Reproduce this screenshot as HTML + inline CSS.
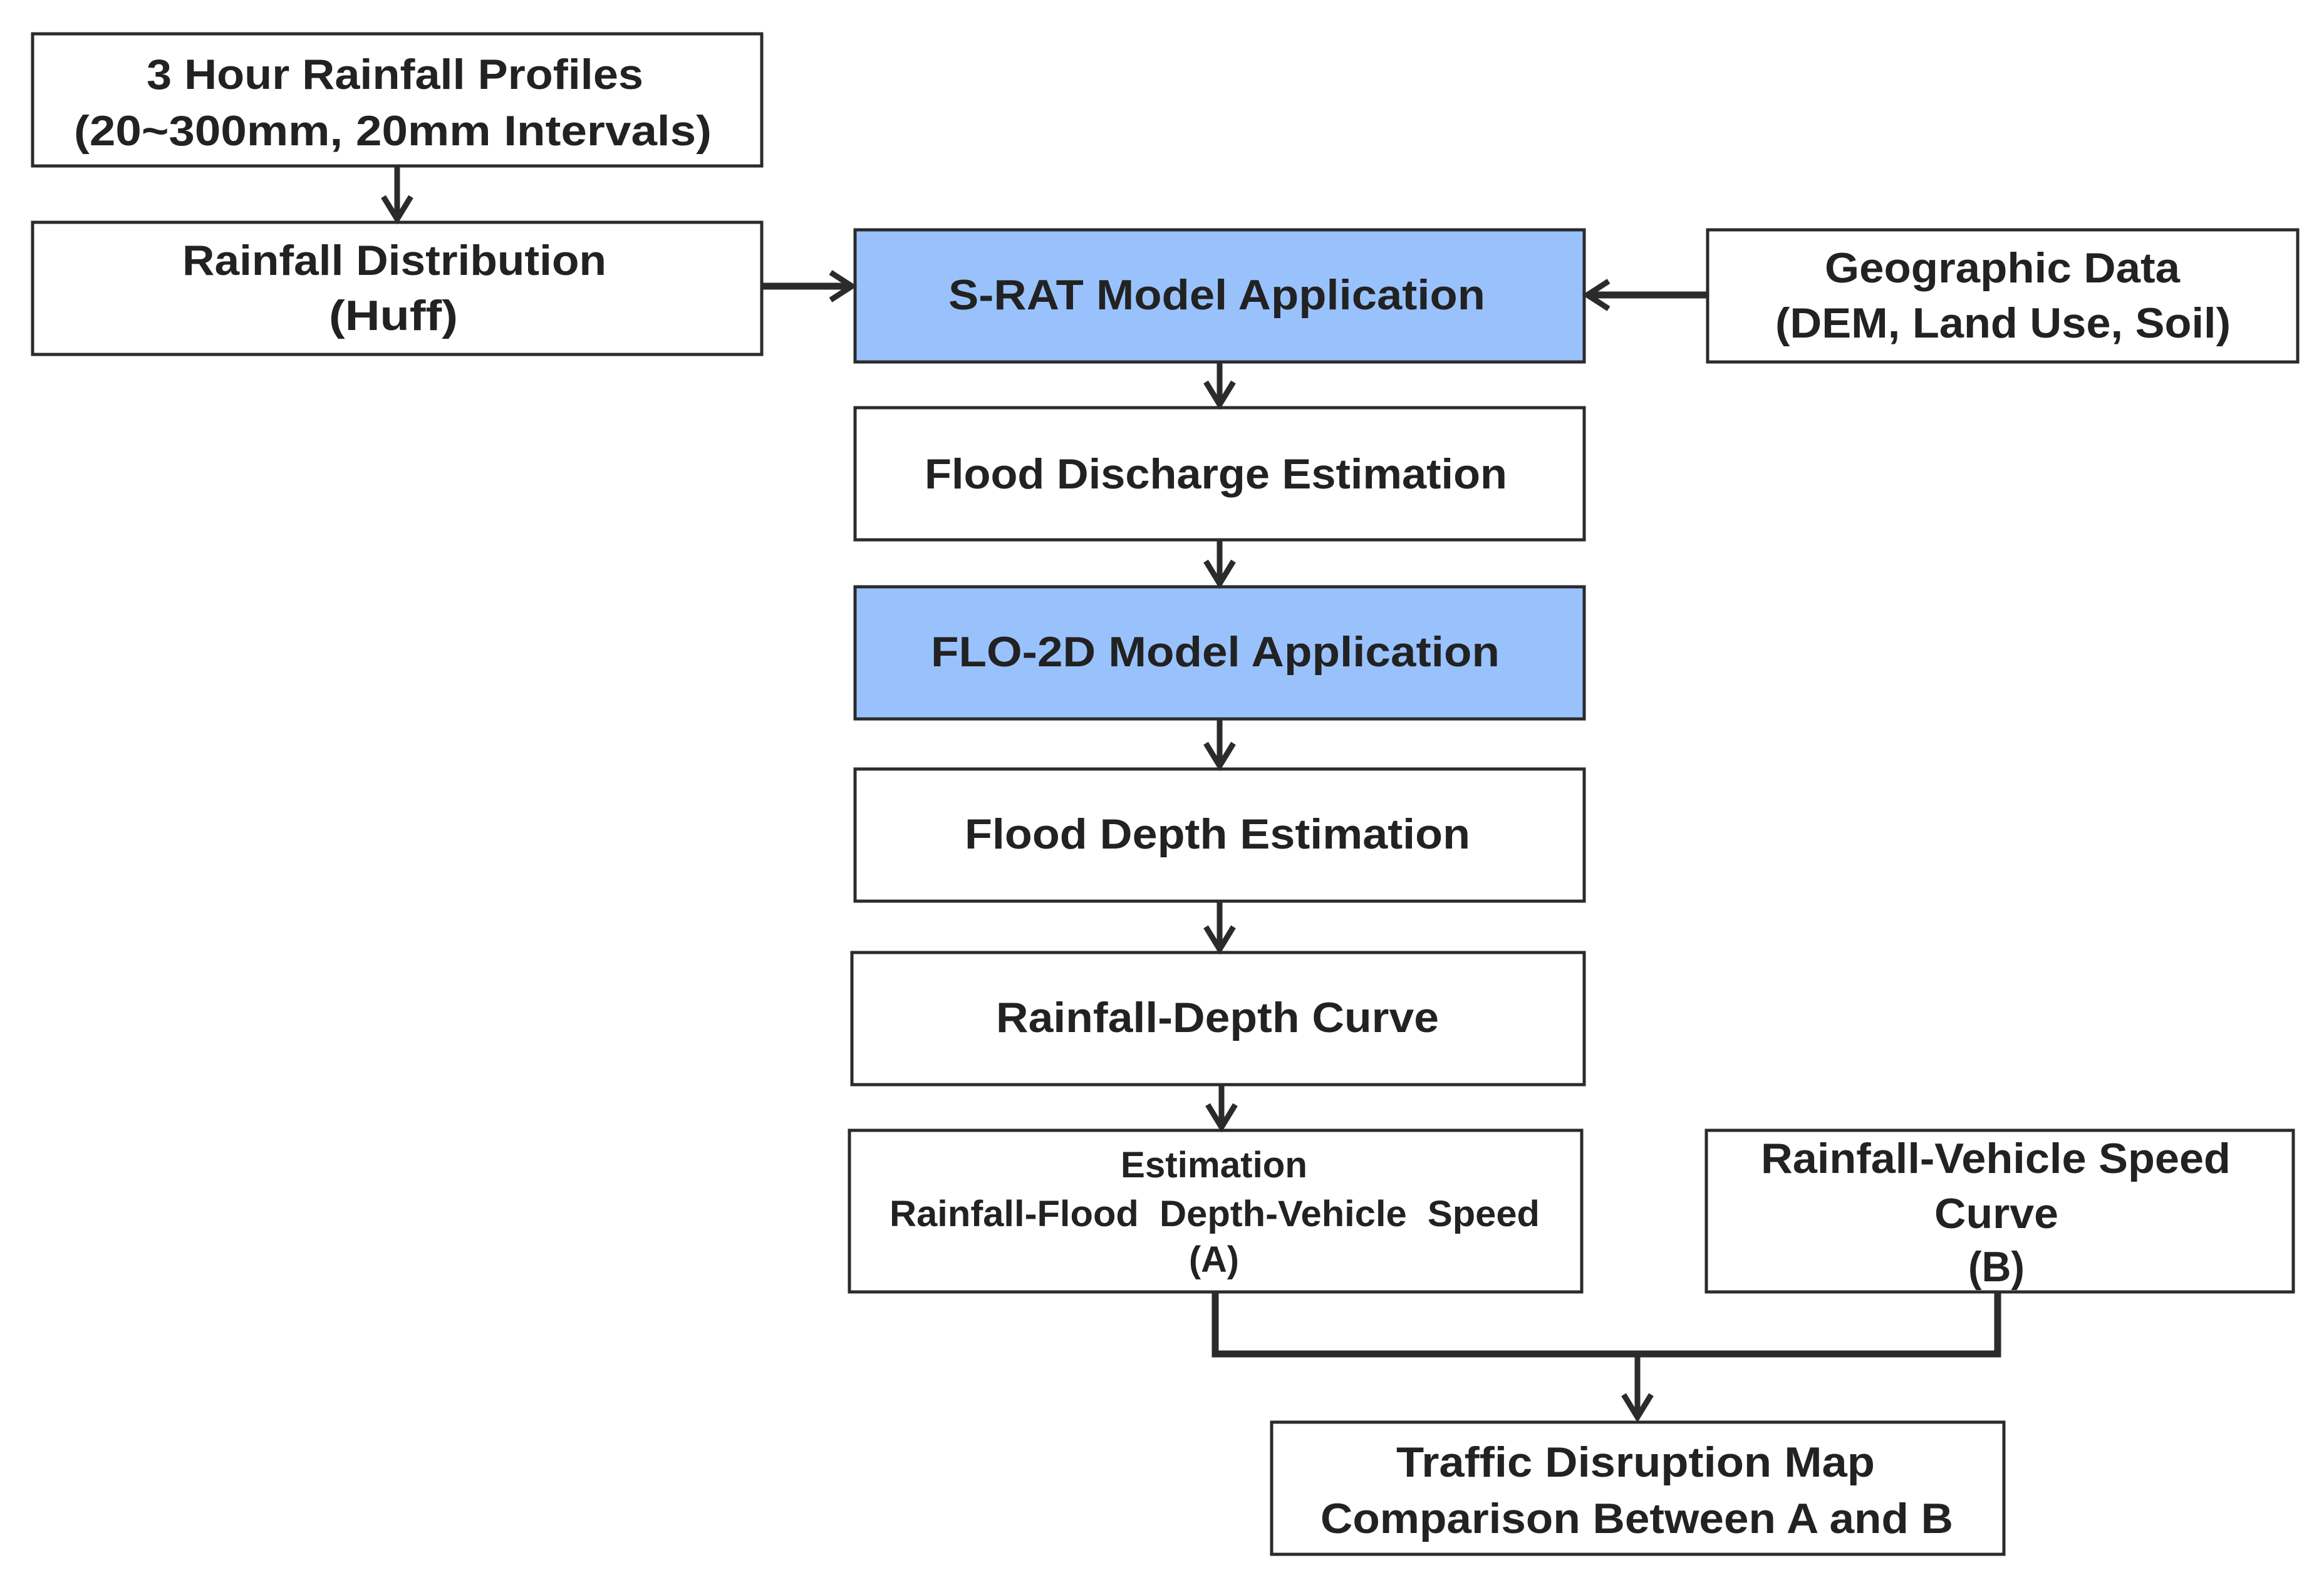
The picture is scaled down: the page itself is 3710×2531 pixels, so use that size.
<!DOCTYPE html>
<html><head><meta charset="utf-8"><style>html,body{margin:0;padding:0;background:#fff}svg{display:block}</style></head>
<body>
<svg width="3710" height="2531" viewBox="0 0 3710 2531" xmlns="http://www.w3.org/2000/svg">
<g fill="#fff" stroke="#2b2b2b" stroke-width="5">
<rect x="52" y="54" width="1164" height="211"/>
<rect x="52" y="355" width="1164" height="211"/>
<rect x="1365" y="367" width="1164" height="211" fill="#99c2fd"/>
<rect x="2726" y="367" width="942" height="211"/>
<rect x="1365" y="651" width="1164" height="211"/>
<rect x="1365" y="937" width="1164" height="211" fill="#99c2fd"/>
<rect x="1365" y="1228" width="1164" height="211"/>
<rect x="1360" y="1521" width="1169" height="211"/>
<rect x="1356" y="1805" width="1169" height="258"/>
<rect x="2724" y="1805" width="937" height="258"/>
<rect x="2030" y="2271" width="1169" height="211"/>
</g>
<g stroke="#2b2b2b" fill="none" stroke-width="9" stroke-linejoin="miter">
<line x1="634" y1="265" x2="634" y2="350"/><polyline points="612,314 634,350 656,314"/>
<line x1="1216" y1="457" x2="1360" y2="457" stroke-width="11"/><polyline points="1326,435 1360,457 1326,479"/>
<line x1="2726" y1="471" x2="2534" y2="471" stroke-width="11"/><polyline points="2568,449 2534,471 2568,493"/>
<line x1="1947" y1="578" x2="1947" y2="646"/><polyline points="1925,610 1947,646 1969,610"/>
<line x1="1947" y1="862" x2="1947" y2="932"/><polyline points="1925,896 1947,932 1969,896"/>
<line x1="1947" y1="1148" x2="1947" y2="1223"/><polyline points="1925,1187 1947,1223 1969,1187"/>
<line x1="1947" y1="1439" x2="1947" y2="1516"/><polyline points="1925,1480 1947,1516 1969,1480"/>
<line x1="1950" y1="1732" x2="1950" y2="1800"/><polyline points="1928,1764 1950,1800 1972,1764"/>
<polyline points="1940,2063 1940,2162 3189,2162 3189,2063" stroke-width="11"/>
<line x1="2614" y1="2162" x2="2614" y2="2263"/><polyline points="2592,2227 2614,2263 2636,2227"/>
</g>
<g font-family="'Liberation Sans', sans-serif" font-weight="bold" fill="#222" font-size="68">
<text x="234" y="142" textLength="793" lengthAdjust="spacingAndGlyphs">3 Hour Rainfall Profiles</text>
<text x="118" y="232" textLength="1018" lengthAdjust="spacingAndGlyphs">(20~300mm, 20mm Intervals)</text>
<text x="291" y="439" textLength="677" lengthAdjust="spacingAndGlyphs">Rainfall Distribution</text>
<text x="525" y="527" textLength="206" lengthAdjust="spacingAndGlyphs">(Huff)</text>
<text x="1514" y="494" textLength="857" lengthAdjust="spacingAndGlyphs">S-RAT Model Application</text>
<text x="2913" y="451" textLength="567" lengthAdjust="spacingAndGlyphs">Geographic Data</text>
<text x="2834" y="539" textLength="727" lengthAdjust="spacingAndGlyphs">(DEM, Land Use, Soil)</text>
<text x="1476" y="780" textLength="930" lengthAdjust="spacingAndGlyphs">Flood Discharge Estimation</text>
<text x="1486" y="1064" textLength="908" lengthAdjust="spacingAndGlyphs">FLO-2D Model Application</text>
<text x="1540" y="1355" textLength="807" lengthAdjust="spacingAndGlyphs">Flood Depth Estimation</text>
<text x="1590" y="1648" textLength="707" lengthAdjust="spacingAndGlyphs">Rainfall-Depth Curve</text>
<text x="1789" y="1880" font-size="58" textLength="298" lengthAdjust="spacingAndGlyphs">Estimation</text>
<text x="1420" y="1958" font-size="58" textLength="1038" lengthAdjust="spacingAndGlyphs" xml:space="preserve">Rainfall-Flood  Depth-Vehicle  Speed</text>
<text x="1898" y="2031" font-size="58" textLength="80" lengthAdjust="spacingAndGlyphs">(A)</text>
<text x="2811" y="1873" textLength="750" lengthAdjust="spacingAndGlyphs">Rainfall-Vehicle Speed</text>
<text x="3088" y="1961" textLength="198" lengthAdjust="spacingAndGlyphs">Curve</text>
<text x="3142" y="2046" textLength="90" lengthAdjust="spacingAndGlyphs">(B)</text>
<text x="2229" y="2358" textLength="764" lengthAdjust="spacingAndGlyphs">Traffic Disruption Map</text>
<text x="2108" y="2448" textLength="1010" lengthAdjust="spacingAndGlyphs">Comparison Between A and B</text>
</g>
</svg>
</body></html>
